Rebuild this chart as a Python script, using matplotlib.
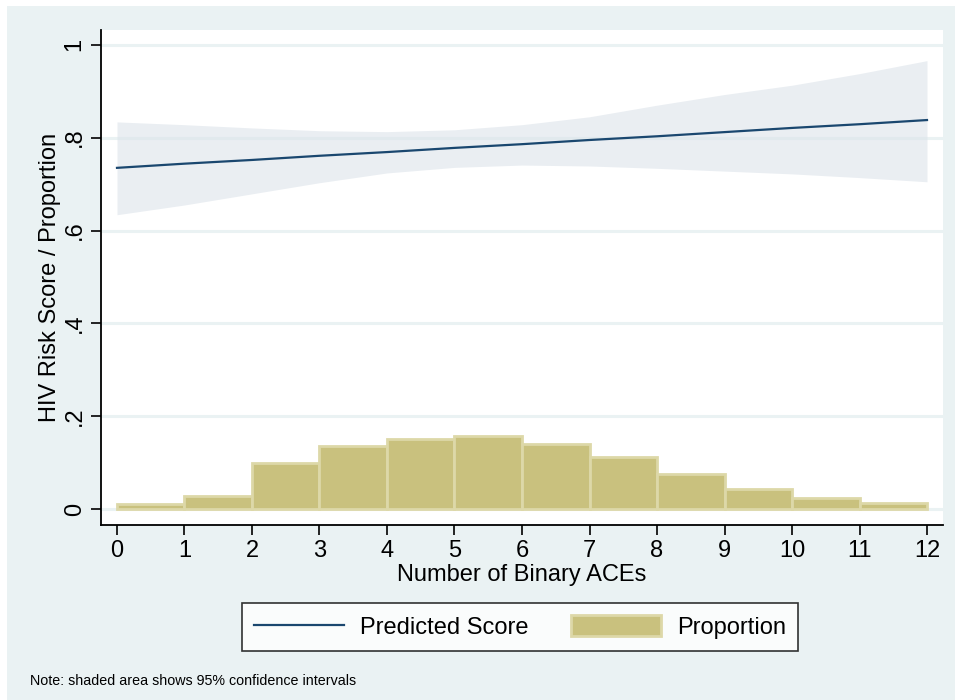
import matplotlib.pyplot as plt
from matplotlib.patches import Rectangle
import numpy as np

plt.rcParams['font.family'] = ['Liberation Sans', 'DejaVu Sans']

# histogram of ACE counts (bin left edges and proportions)
binEdges = [0, 1, 2, 3, 4, 5, 6, 7, 8, 9, 10, 11]
proportion = [0.011, 0.028, 0.099, 0.136, 0.150, 0.158, 0.140, 0.112, 0.075, 0.043, 0.023, 0.013]

# predicted score with 95% CI
aces = [0, 1, 2, 3, 4, 5, 6, 7, 8, 9, 10, 11, 12]
predicted = [0.735, 0.744, 0.752, 0.761, 0.769, 0.778, 0.786, 0.795, 0.803, 0.812, 0.821, 0.829, 0.838]
ciUpper = [0.834, 0.828, 0.821, 0.815, 0.813, 0.817, 0.828, 0.845, 0.870, 0.893, 0.913, 0.938, 0.966]
ciLower = [0.634, 0.655, 0.679, 0.703, 0.724, 0.736, 0.741, 0.739, 0.734, 0.728, 0.722, 0.714, 0.705]

yTicks = [0, 0.2, 0.4, 0.6, 0.8, 1]
yTickLabels = ['0', '.2', '.4', '.6', '.8', '1']

bg = '#EAF2F3'
W, H = 958, 700

fig = plt.figure(figsize=(W / 100, H / 100), dpi=100, facecolor='white')
fig.patches.append(Rectangle((7 / W, 0), 948 / W, 1 - 6 / H, transform=fig.transFigure,
                             facecolor=bg, edgecolor='none', zorder=-10))

ax = fig.add_axes([101 / W, 1 - 525 / H, 842 / W, 495 / H])
ax.set_facecolor('white')

# grid
for t in yTicks:
    ax.axhline(t, color=bg, lw=2.2, zorder=0)

# plot
ax.fill_between(aces, ciLower, ciUpper, color='#DCE3EA', alpha=0.6, lw=0, zorder=1)
ax.plot(aces, predicted, color='#1A476F', lw=1.6, zorder=3, label='Predicted Score')
ax.bar(binEdges, proportion, width=1, align='edge', color='#C9C17E',
       edgecolor='#DDD8A8', linewidth=2, zorder=2, label='Proportion')

# decorate
ax.set_xlim(-0.237, 12.237)
ax.set_ylim(-0.0345, 1.032)
ax.set_xticks(range(13))
ax.set_yticks(yTicks)
ax.set_yticklabels(yTickLabels, rotation=90, va='center')
ax.tick_params(axis='both', labelsize=17, length=7, width=1.2, colors='black', pad=4)
ax.tick_params(axis='y', pad=4)
for s in ['top', 'right']:
    ax.spines[s].set_visible(False)
for s in ['left', 'bottom']:
    ax.spines[s].set_linewidth(1.3)

ax.set_xlabel('Number of Binary ACEs', fontsize=17, labelpad=1)
ax.set_ylabel('HIV Risk Score / Proportion', fontsize=17, labelpad=2)

leg = fig.legend(loc='center', bbox_to_anchor=(520 / W, 1 - 627 / H), ncol=2,
                 fontsize=17, frameon=True, fancybox=False, edgecolor='black',
                 handlelength=3.8, handleheight=1.0, columnspacing=1.8,
                 handletextpad=0.68, borderpad=0.5)
leg.get_frame().set_linewidth(1.2)

fig.text(30 / W, 1 - 681 / H, 'Note: shaded area shows 95% confidence intervals',
         fontsize=10.3, va='center', ha='left')

fig.savefig('out.png', dpi=100, facecolor='white')
